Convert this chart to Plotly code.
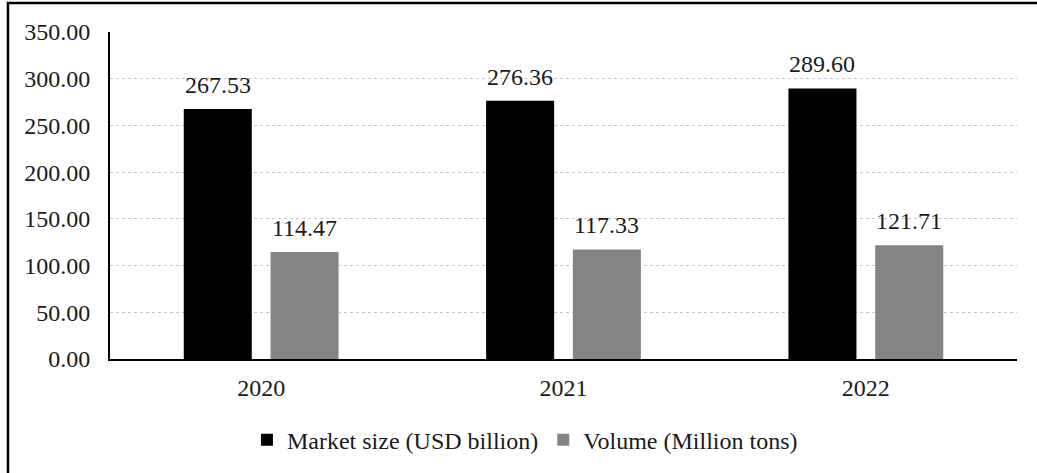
import plotly.graph_objects as go

# Chart data
years = ["2020", "2021", "2022"]
market_size = [267.53, 276.36, 289.60]      # USD billion
volume = [114.47, 117.33, 121.71]           # Million tons
y_ticks = [0, 50, 100, 150, 200, 250, 300, 350]

FONT = "Liberation Serif, Times New Roman, serif"
TXT = "#1a1a1a"

# bar geometry in category units (one category = 1.0)
BAR_W = 0.225
OFF_A = -0.256
OFF_B = 0.031

fig = go.Figure()
fig.add_trace(go.Bar(
    name="Market size (USD billion)", x=years, y=market_size,
    width=BAR_W, offset=OFF_A, marker=dict(color="#000000", line=dict(width=0)),
))
fig.add_trace(go.Bar(
    name="Volume (Million tons)", x=years, y=volume,
    width=BAR_W, offset=OFF_B, marker=dict(color="#848484", line=dict(width=0)),
))

# value labels above each bar
for i, (a, b) in enumerate(zip(market_size, volume)):
    for val, off in ((a, OFF_A), (b, OFF_B)):
        fig.add_annotation(
            x=i + off + BAR_W / 2, y=val, xref="x", yref="y",
            text=f"{val:.2f}", showarrow=False, yanchor="bottom", yshift=9,
            font=dict(family=FONT, size=24, color=TXT),
        )

# outer frame (left and top edges)
fig.add_shape(
    type="path", xref="paper", yref="paper",
    path="M -0.1125,-0.40 L -0.1125,1.0884 L 1.03,1.0884",
    line=dict(color="#000000", width=2.5),
)

fig.update_layout(
    width=1037, height=473,
    margin=dict(l=110, r=20, t=32, b=113),
    paper_bgcolor="white", plot_bgcolor="white",
    font=dict(family=FONT, size=24, color=TXT),
    barmode="overlay",
    showlegend=True,
    legend=dict(
        orientation="h", x=0.4575, xanchor="center", y=-0.244, yanchor="middle",
        font=dict(family=FONT, size=24, color=TXT),
        itemwidth=30, traceorder="normal", bgcolor="rgba(0,0,0,0)",
    ),
)
fig.update_xaxes(
    type="category", range=[-0.5, 2.5],
    showline=True, linecolor="#000000", linewidth=2,
    showgrid=False, ticks="", ticklabelstandoff=6,
    tickfont=dict(family=FONT, size=24, color=TXT),
)
fig.update_yaxes(
    range=[0, 350], tickvals=y_ticks, tickformat=".2f",
    showline=True, linecolor="#000000", linewidth=2,
    showgrid=True, gridcolor="#c8c8c8", gridwidth=1, griddash="dot",
    zeroline=False, ticks="", ticklabelstandoff=13,
    tickfont=dict(family=FONT, size=24, color=TXT),
)

fig.write_html("out.html")
